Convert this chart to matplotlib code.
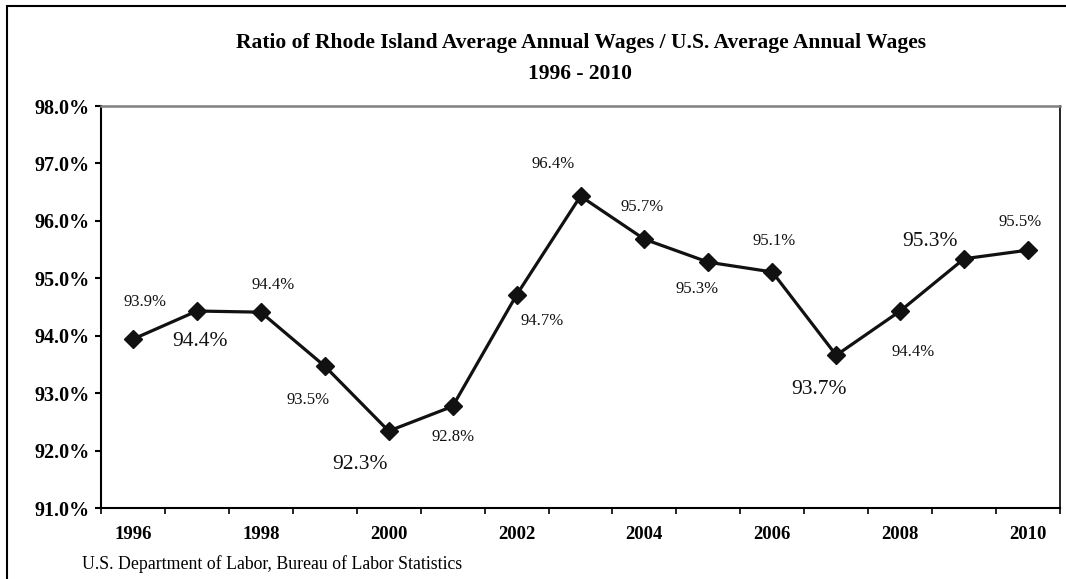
import matplotlib
matplotlib.use('Agg')
import matplotlib.pyplot as plt
from matplotlib.patches import Rectangle
from matplotlib.ticker import FixedLocator, NullFormatter

years = [1996, 1997, 1998, 1999, 2000, 2001, 2002, 2003, 2004,
         2005, 2006, 2007, 2008, 2009, 2010]
ratio = [93.94, 94.43, 94.41, 93.47, 92.34, 92.77, 94.71, 96.43, 95.68,
         95.28, 95.11, 93.66, 94.43, 95.34, 95.49]
y_ticks = [91, 92, 93, 94, 95, 96, 97, 98]

# label placement (pixels from the marker, +x right, +y up) and which ones are big
label_offsets = [(12, 37), (3, -30), (12, 27), (-17, -34), (-29, -33), (0, -31),
                 (26, -26), (-27, 32), (-2, 32), (-11, -27), (2, 31), (-17, -34),
                 (13, -41), (-34, 17), (-8, 28)]
big_labels = [1997, 2000, 2007, 2009]

plt.rcParams['font.family'] = ['Liberation Serif', 'DejaVu Serif']

W, H = 1066, 579
fig = plt.figure(figsize=(W / 100, H / 100), dpi=100)
ax = fig.add_axes([101 / W, 1 - 508 / H, (1060 - 101) / W, (508 - 106) / H])

ax.plot(years, ratio, color='#111111', lw=2.3, marker='D', markersize=8.7,
        markerfacecolor='#111111', markeredgecolor='#111111', zorder=3)

for yr, v, (dx, dy) in zip(years, ratio, label_offsets):
    size = 15.5 if yr in big_labels else 12
    ax.annotate(f'{v:.1f}%', (yr, v), xytext=(dx, dy), textcoords='offset pixels',
                ha='center', va='center', fontsize=size, color='#111111')

ax.set_xlim(years[0] - 0.5, years[-1] + 0.5)
ax.set_ylim(y_ticks[0], y_ticks[-1])

# year labels on even years, tick marks between categories
ax.set_xticks(years[::2])
ax.set_xticklabels([str(y) for y in years[::2]], fontweight='bold', fontsize=13.5)
ax.tick_params(axis='x', which='major', length=0, pad=13)
ax.xaxis.set_minor_locator(FixedLocator([y - 0.5 for y in years] + [years[-1] + 0.5]))
ax.xaxis.set_minor_formatter(NullFormatter())
ax.tick_params(axis='x', which='minor', direction='out', length=4, width=1.2,
               color='black')

ax.set_yticks(y_ticks)
ax.set_yticklabels([f'{t:.1f}%' for t in y_ticks], fontweight='bold', fontsize=14.5)
ax.tick_params(axis='y', direction='out', length=4, width=1.5, pad=4)

for side in ['left', 'bottom', 'right']:
    ax.spines[side].set_color('black')
    ax.spines[side].set_linewidth(1.5)
ax.spines['right'].set_linewidth(1.2)
ax.spines['top'].set_color('#808080')
ax.spines['top'].set_linewidth(1.8)

cx = (101 + 1060) / 2 / W
fig.text(cx, 1 - 43 / H,
         'Ratio of Rhode Island Average Annual Wages / U.S. Average Annual Wages',
         ha='center', va='center', fontsize=15.5, fontweight='bold')
fig.text(cx, 1 - 74 / H, '1996 - 2010', ha='center', va='center',
         fontsize=15.5, fontweight='bold')

fig.text(82 / W, 1 - 564 / H, 'U.S. Department of Labor, Bureau of Labor Statistics',
         ha='left', va='center', fontsize=12.8)

# outer frame around the chart
fig.patches.append(Rectangle((7 / W, -0.05), 1.1, 1 - 6 / H + 0.05,
                             transform=fig.transFigure, fill=False,
                             edgecolor='black', lw=1.5))

fig.savefig('out.png', dpi=100)
